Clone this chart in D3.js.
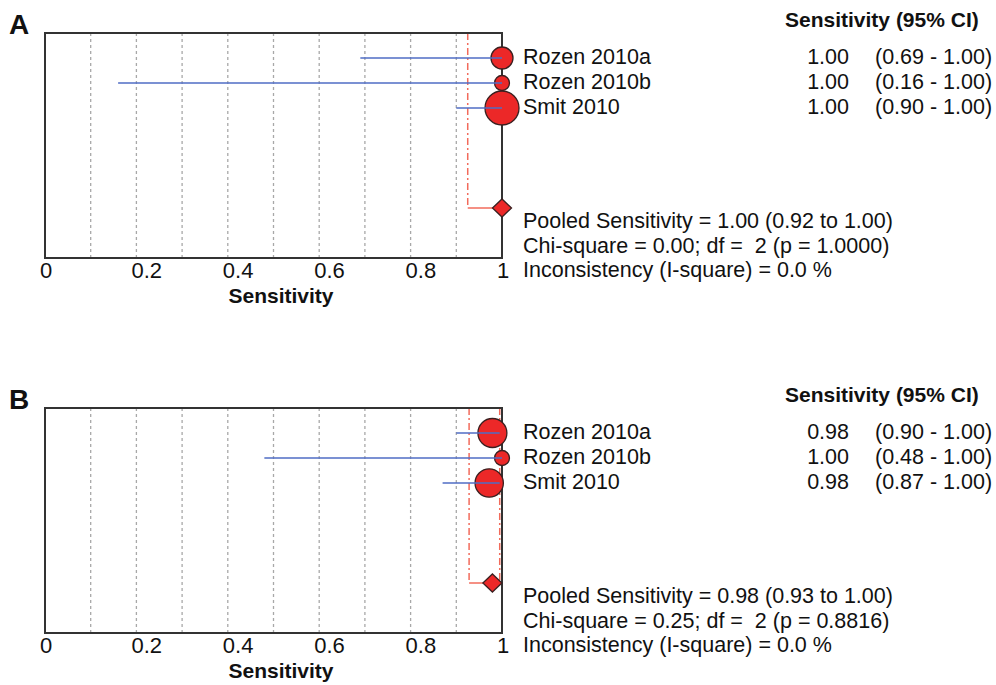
<!DOCTYPE html>
<html>
<head>
<meta charset="utf-8">
<script src="https://cdn.jsdelivr.net/npm/d3@7"></script>
<style>
  body { margin: 0; background: #fff; }
  text { font-family: "Liberation Sans", Arial, sans-serif; fill: #111; white-space: pre; }
</style>
</head>
<body>
<svg id="chart"></svg>
<script>
// Studies, shared by both panels.
const studies = ['Rozen 2010a', 'Rozen 2010b', 'Smit 2010'];
const ticks = [0, 0.2, 0.4, 0.6, 0.8, 1];
const gridValues = [0.1, 0.2, 0.3, 0.4, 0.5, 0.6, 0.7, 0.8, 0.9];

// Panel A.
const sensA = [1.00, 1.00, 1.00];
const lowA = [0.69, 0.16, 0.90];
const highA = [1.00, 1.00, 1.00];
const weightA = [26, 12, 62];
const estTextA = ['1.00', '1.00', '1.00'];
const ciTextA = ['(0.69 - 1.00)', '(0.16 - 1.00)', '(0.90 - 1.00)'];
const pooledA = [1.00, 0.925, 1.00];  // estimate, low, high
const statsA = [
  'Pooled Sensitivity = 1.00 (0.92 to 1.00)',
  'Chi-square = 0.00; df =  2 (p = 1.0000)',
  'Inconsistency (I-square) = 0.0 %'
];

// Panel B.
const sensB = [0.979, 1.00, 0.972];
const lowB = [0.90, 0.48, 0.87];
const highB = [0.995, 1.00, 0.995];
const weightB = [45, 12, 43];
const estTextB = ['0.98', '1.00', '0.98'];
const ciTextB = ['(0.90 - 1.00)', '(0.48 - 1.00)', '(0.87 - 1.00)'];
const pooledB = [0.979, 0.928, 0.995];
const statsB = [
  'Pooled Sensitivity = 0.98 (0.93 to 1.00)',
  'Chi-square = 0.25; df =  2 (p = 0.8816)',
  'Inconsistency (I-square) = 0.0 %'
];

const svg = d3.select('#chart').attr('width', 996).attr('height', 685);
const left = 45, right = 502;
const x = d3.scaleLinear().domain([0, 1]).range([left, right]);
const r = d3.scaleSqrt().domain([0, 100]).range([0, 21.6]);

function panel(letter, top, sens, low, high, weight, estText, ciText, pooled, stats) {
  // Nine row slots: three studies, a gap, then the pooled diamond.
  const y = d3.scaleLinear().domain([0, 9]).range([top, top + 225]);
  const g = svg.append('g');

  g.append('text').attr('x', 9).attr('y', top + 1)
    .attr('font-size', 28).attr('font-weight', 'bold').text(letter);

  // Dotted grid.
  g.selectAll('.grid').data(gridValues).join('line')
    .attr('x1', d => x(d)).attr('x2', d => x(d))
    .attr('y1', y(0)).attr('y2', y(9))
    .attr('stroke', '#a8a8a8').attr('stroke-width', 1.3).attr('stroke-dasharray', '3,3');

  // Pooled confidence bounds.
  const red = '#f26b5b';
  g.selectAll('.bound').data([pooled[1], pooled[2]]).join('line')
    .attr('x1', d => x(d)).attr('x2', d => x(d))
    .attr('y1', y(0)).attr('y2', y(7))
    .attr('stroke', red).attr('stroke-width', 1.5).attr('stroke-dasharray', '7,3,2,3');
  g.append('line')
    .attr('x1', x(pooled[1])).attr('x2', x(pooled[0]))
    .attr('y1', y(7)).attr('y2', y(7))
    .attr('stroke', red).attr('stroke-width', 1.5);

  // Frame.
  g.append('rect').attr('x', x(0)).attr('y', y(0))
    .attr('width', x(1) - x(0)).attr('height', y(9) - y(0))
    .attr('fill', 'none').attr('stroke', '#333').attr('stroke-width', 2);

  const rows = studies.map((s, i) => ({name: s, sens: sens[i], low: low[i], high: high[i],
    w: weight[i], est: estText[i], ci: ciText[i], row: i + 1}));

  g.selectAll('.dot').data(rows).join('circle')
    .attr('cx', d => x(d.sens)).attr('cy', d => y(d.row)).attr('r', d => r(d.w))
    .attr('fill', '#ec2828').attr('stroke', '#3a2020').attr('stroke-width', 1.3);

  g.selectAll('.ci').data(rows).join('line')
    .attr('x1', d => x(d.low)).attr('x2', d => x(d.high))
    .attr('y1', d => y(d.row)).attr('y2', d => y(d.row))
    .attr('stroke', '#4f6cc4').attr('stroke-width', 1.6);

  // Pooled diamond.
  const px = x(pooled[0]), py = y(7);
  g.append('path')
    .attr('d', `M${px - 9.5},${py}L${px},${py - 9}L${px + 9.5},${py}L${px},${py + 9}Z`)
    .attr('fill', '#ec2828').attr('stroke', '#3a2020').attr('stroke-width', 1.3);

  // Axis labels.
  g.selectAll('.tick').data(ticks).join('text')
    .attr('x', d => x(d) - 5).attr('y', y(9) + 20)
    .attr('font-size', 22).text(d => d3.format('')(d));
  g.append('text').attr('x', 281).attr('y', y(9) + 45)
    .attr('text-anchor', 'middle').attr('font-size', 21).attr('font-weight', 'bold')
    .text('Sensitivity');

  // Study table.
  g.append('text').attr('x', 785).attr('y', top - 6)
    .attr('font-size', 21).attr('font-weight', 'bold').text('Sensitivity (95% CI)');
  g.selectAll('.name').data(rows).join('text')
    .attr('x', 523).attr('y', d => y(d.row) + 6).attr('font-size', 21.5).text(d => d.name);
  g.selectAll('.est').data(rows).join('text')
    .attr('x', 849).attr('y', d => y(d.row) + 6).attr('text-anchor', 'end')
    .attr('font-size', 21.5).text(d => d.est);
  g.selectAll('.cit').data(rows).join('text')
    .attr('x', 875).attr('y', d => y(d.row) + 6).attr('font-size', 21.5).text(d => d.ci);

  g.selectAll('.stat').data(stats).join('text')
    .attr('x', 523).attr('y', (d, i) => y(7) + 20 + i * 24.5)
    .attr('font-size', 21.5).text(d => d);
}

panel('A', 33, sensA, lowA, highA, weightA, estTextA, ciTextA, pooledA, statsA);
panel('B', 408, sensB, lowB, highB, weightB, estTextB, ciTextB, pooledB, statsB);
</script>
</body>
</html>
